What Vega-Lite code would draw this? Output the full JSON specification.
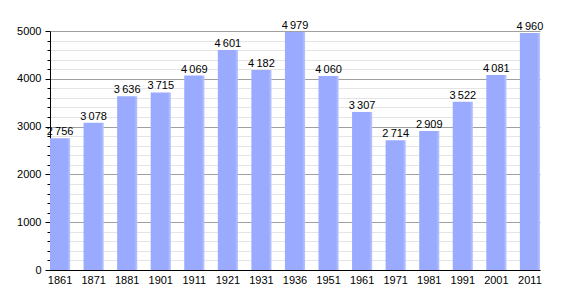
{
  "$schema": "https://vega.github.io/schema/vega-lite/v6.json",
  "width": 490,
  "height": 239,
  "autosize": {"type": "none"},
  "padding": {"left": 50, "top": 31, "right": 30, "bottom": 30},
  "background": "white",
  "config": {
    "view": {"stroke": null},
    "font": "Liberation Sans",
    "locale": {"number": {"decimal": ",", "thousands": "\u2009", "grouping": [3], "currency": ["", ""]}}
  },
  "data": {"values": [
    {"year": "1861", "pop": 2756},
    {"year": "1871", "pop": 3078},
    {"year": "1881", "pop": 3636},
    {"year": "1901", "pop": 3715},
    {"year": "1911", "pop": 4069},
    {"year": "1921", "pop": 4601},
    {"year": "1931", "pop": 4182},
    {"year": "1936", "pop": 4979},
    {"year": "1951", "pop": 4060},
    {"year": "1961", "pop": 3307},
    {"year": "1971", "pop": 2714},
    {"year": "1981", "pop": 2909},
    {"year": "1991", "pop": 3522},
    {"year": "2001", "pop": 4081},
    {"year": "2011", "pop": 4960}
  ]},
  "encoding": {
    "x": {
      "field": "year", "type": "ordinal", "sort": null,
      "scale": {"paddingInner": 0.4, "paddingOuter": 0},
      "axis": {"title": null, "labelAngle": 0, "ticks": false, "domainColor": "black", "labelColor": "black", "labelFontSize": 11, "labelPadding": 4}
    },
    "y": {
      "field": "pop", "type": "quantitative",
      "scale": {"domain": [0, 5000], "nice": false},
      "axis": {
        "title": null,
        "values": [0,200,400,600,800,1000,1200,1400,1600,1800,2000,2200,2400,2600,2800,3000,3200,3400,3600,3800,4000,4200,4400,4600,4800,5000],
        "labelExpr": "datum.value % 1000 === 0 ? '' + datum.value : ''",
        "format": "d",
        "grid": true,
        "gridColor": {"condition": {"test": "datum.value % 1000 === 0", "value": "#a0a0a0"}, "value": "#e4e4e4"},
        "gridWidth": 1,
        "tickColor": "black",
        "tickSize": {"condition": {"test": "datum.value % 1000 === 0", "value": 5}, "value": 3},
        "domainColor": "black",
        "labelColor": "black",
        "labelFontSize": 11,
        "labelPadding": 4
      }
    }
  },
  "layer": [
    {
      "mark": {
        "type": "bar",
        "color": {
          "gradient": "linear", "x1": 0, "x2": 1, "y1": 0, "y2": 0,
          "stops": [
            {"offset": 0, "color": "#9aabff"},
            {"offset": 0.85, "color": "#9aabff"},
            {"offset": 1, "color": "#b8c4ff"}
          ]
        }
      }
    },
    {
      "mark": {"type": "text", "baseline": "bottom", "dy": -1, "fontSize": 11, "color": "black"},
      "encoding": {"text": {"field": "pop", "type": "quantitative", "format": ","}}
    }
  ]
}
